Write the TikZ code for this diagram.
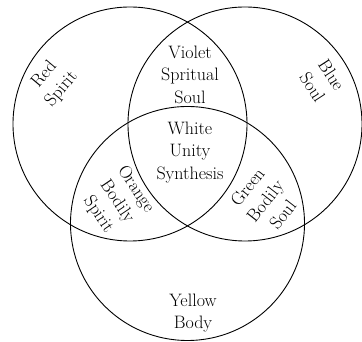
\documentclass[tikz,border=0pt]{standalone}
\usepackage{fontspec}
\begin{document}
\begin{tikzpicture}[x=1pt,y=1pt,
  ring/.style={draw, circle, minimum size=234pt, inner sep=0pt, outer sep=0pt, line width=0.9pt},
  lbl/.style={align=center, inner sep=0pt, font=\fontsize{18}{22.5}\selectfont}]
\useasboundingbox (0,0) rectangle (362,342);
\node[ring] (cred) at (130,218) {};
\node[ring] (cblue) at (245,218) {};
\node[ring] (cyellow) at (187.5,118.5) {};
\node[lbl, rotate=50] (red) at (53,260) {Red\\Spirit};
\node[lbl, rotate=-57] (blue) at (322,261) {Blue\\Soul};
\node[lbl] (violet) at (190,267.5) {Violet\\Spritual\\Soul};
\node[lbl] (white) at (190,189.5) {White\\Unity\\Synthesis};
\node[lbl, rotate=-56] (orange) at (117,140) {Orange\\Bodily\\Spirit};
\node[lbl, rotate=52] (green) at (265,141) {Green\\Bodily\\Soul};
\node[lbl] (yellow) at (193,29) {Yellow\\Body};
\end{tikzpicture}
\end{document}
